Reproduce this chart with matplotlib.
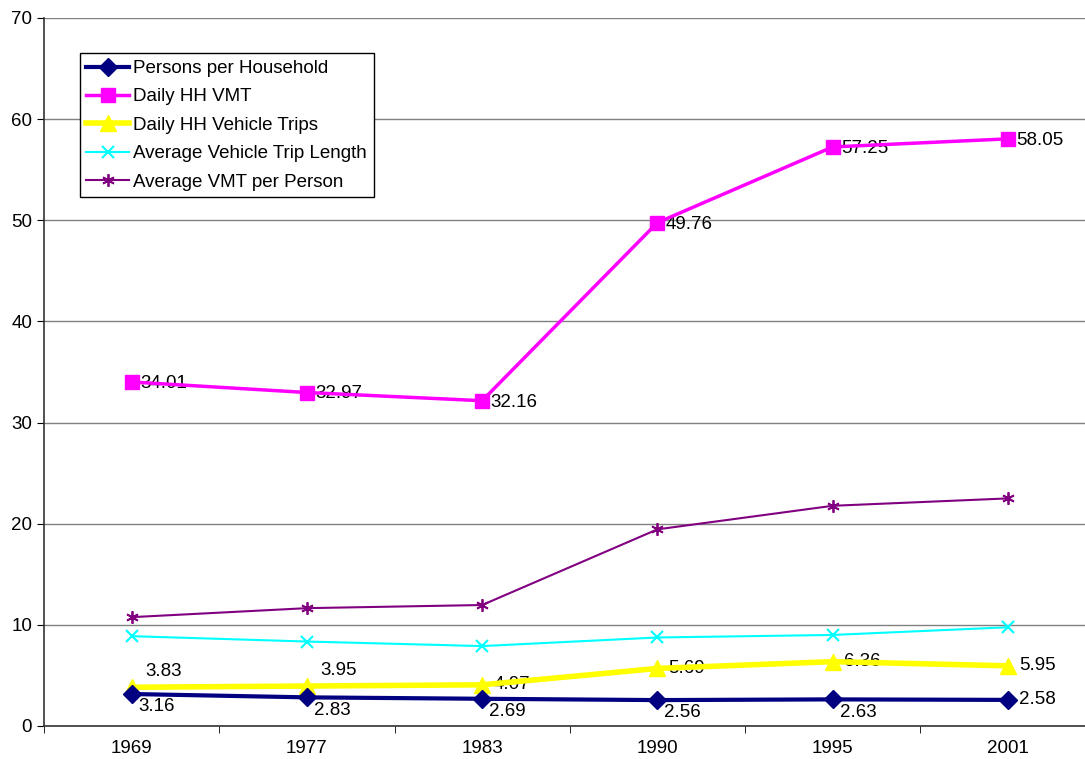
import matplotlib
matplotlib.use("Agg")
import matplotlib.pyplot as plt

years = ["1969", "1977", "1983", "1990", "1995", "2001"]
persons = [3.16, 2.83, 2.69, 2.56, 2.63, 2.58]
hh_vmt = [34.01, 32.97, 32.16, 49.76, 57.25, 58.05]
hh_trips = [3.83, 3.95, 4.07, 5.69, 6.36, 5.95]
trip_len = [8.88, 8.35, 7.90, 8.75, 9.00, 9.76]
vmt_person = [10.76, 11.65, 11.96, 19.44, 21.77, 22.50]

plt.rcParams['font.family'] = ['Liberation Sans', 'DejaVu Sans']

fig = plt.figure(figsize=(10.85, 7.59), dpi=100)
ax = fig.add_axes([0.0406, 0.0435, 0.969, 0.9328])

x = list(range(len(years)))
ax.plot(x, persons, color='#000080', lw=3, marker='D', ms=9, label='Persons per Household', zorder=5)
ax.plot(x, hh_vmt, color='#FF00FF', lw=2.5, marker='s', ms=10, label='Daily HH VMT', zorder=4)
ax.plot(x, hh_trips, color='#FFFF00', lw=4, marker='^', ms=12, label='Daily HH Vehicle Trips', zorder=4)
ax.plot(x, trip_len, color='#00FFFF', lw=1.5, marker='x', ms=8, mew=1.5, label='Average Vehicle Trip Length', zorder=3)
ax.plot(x, vmt_person, color='#800080', lw=1.5, marker=(6, 2, 0), ms=9, mew=1.3, label='Average VMT per Person', zorder=3)

fs = 13.5
for i, v in enumerate(persons):
    if i == len(persons) - 1:
        ax.annotate(f"{v:.2f}", (i, v), xytext=(8, 0), textcoords='offset points', va='center', fontsize=fs)
    else:
        ax.annotate(f"{v:.2f}", (i, v), xytext=(5, -3), textcoords='offset points', va='top', fontsize=fs)
for i, v in enumerate(hh_trips):
    if i < 2:
        ax.annotate(f"{v:.2f}", (i, v), xytext=(10, 5), textcoords='offset points', va='bottom', fontsize=fs)
    else:
        ax.annotate(f"{v:.2f}", (i, v), xytext=(8, 0), textcoords='offset points', va='center', fontsize=fs)
for i, v in enumerate(hh_vmt):
    ax.annotate(f"{v:.2f}", (i, v), xytext=(6, -1), textcoords='offset points', va='center', fontsize=fs)

ax.set_xlim(-0.5, len(years) - 0.5)
ax.set_ylim(0, 70)
ax.set_yticks(range(0, 71, 10))
ax.set_xticks(x)
ax.set_xticklabels(years, fontsize=fs)
ax.set_xticks([i + 0.5 for i in range(-1, len(years))], minor=True)
ax.tick_params(axis='x', which='major', length=0, pad=10)
ax.tick_params(axis='x', which='minor', length=5, direction='out')
ax.tick_params(axis='y', labelsize=fs, length=5, direction='out')
ax.yaxis.grid(True, color='#808080', lw=1)
ax.set_axisbelow(True)
for s in ['top', 'right']:
    ax.spines[s].set_visible(False)
for s in ['left', 'bottom']:
    ax.spines[s].set_color('#333333')
    ax.spines[s].set_linewidth(1.2)

leg = ax.legend(loc='upper left', bbox_to_anchor=(0.034, 0.95), fontsize=fs, frameon=True,
                fancybox=False, edgecolor='black', framealpha=1, handlelength=2.3,
                borderpad=0.35, labelspacing=0.6, handletextpad=0.2, borderaxespad=0)
leg.get_frame().set_linewidth(1)

fig.savefig("out.png", dpi=100)
